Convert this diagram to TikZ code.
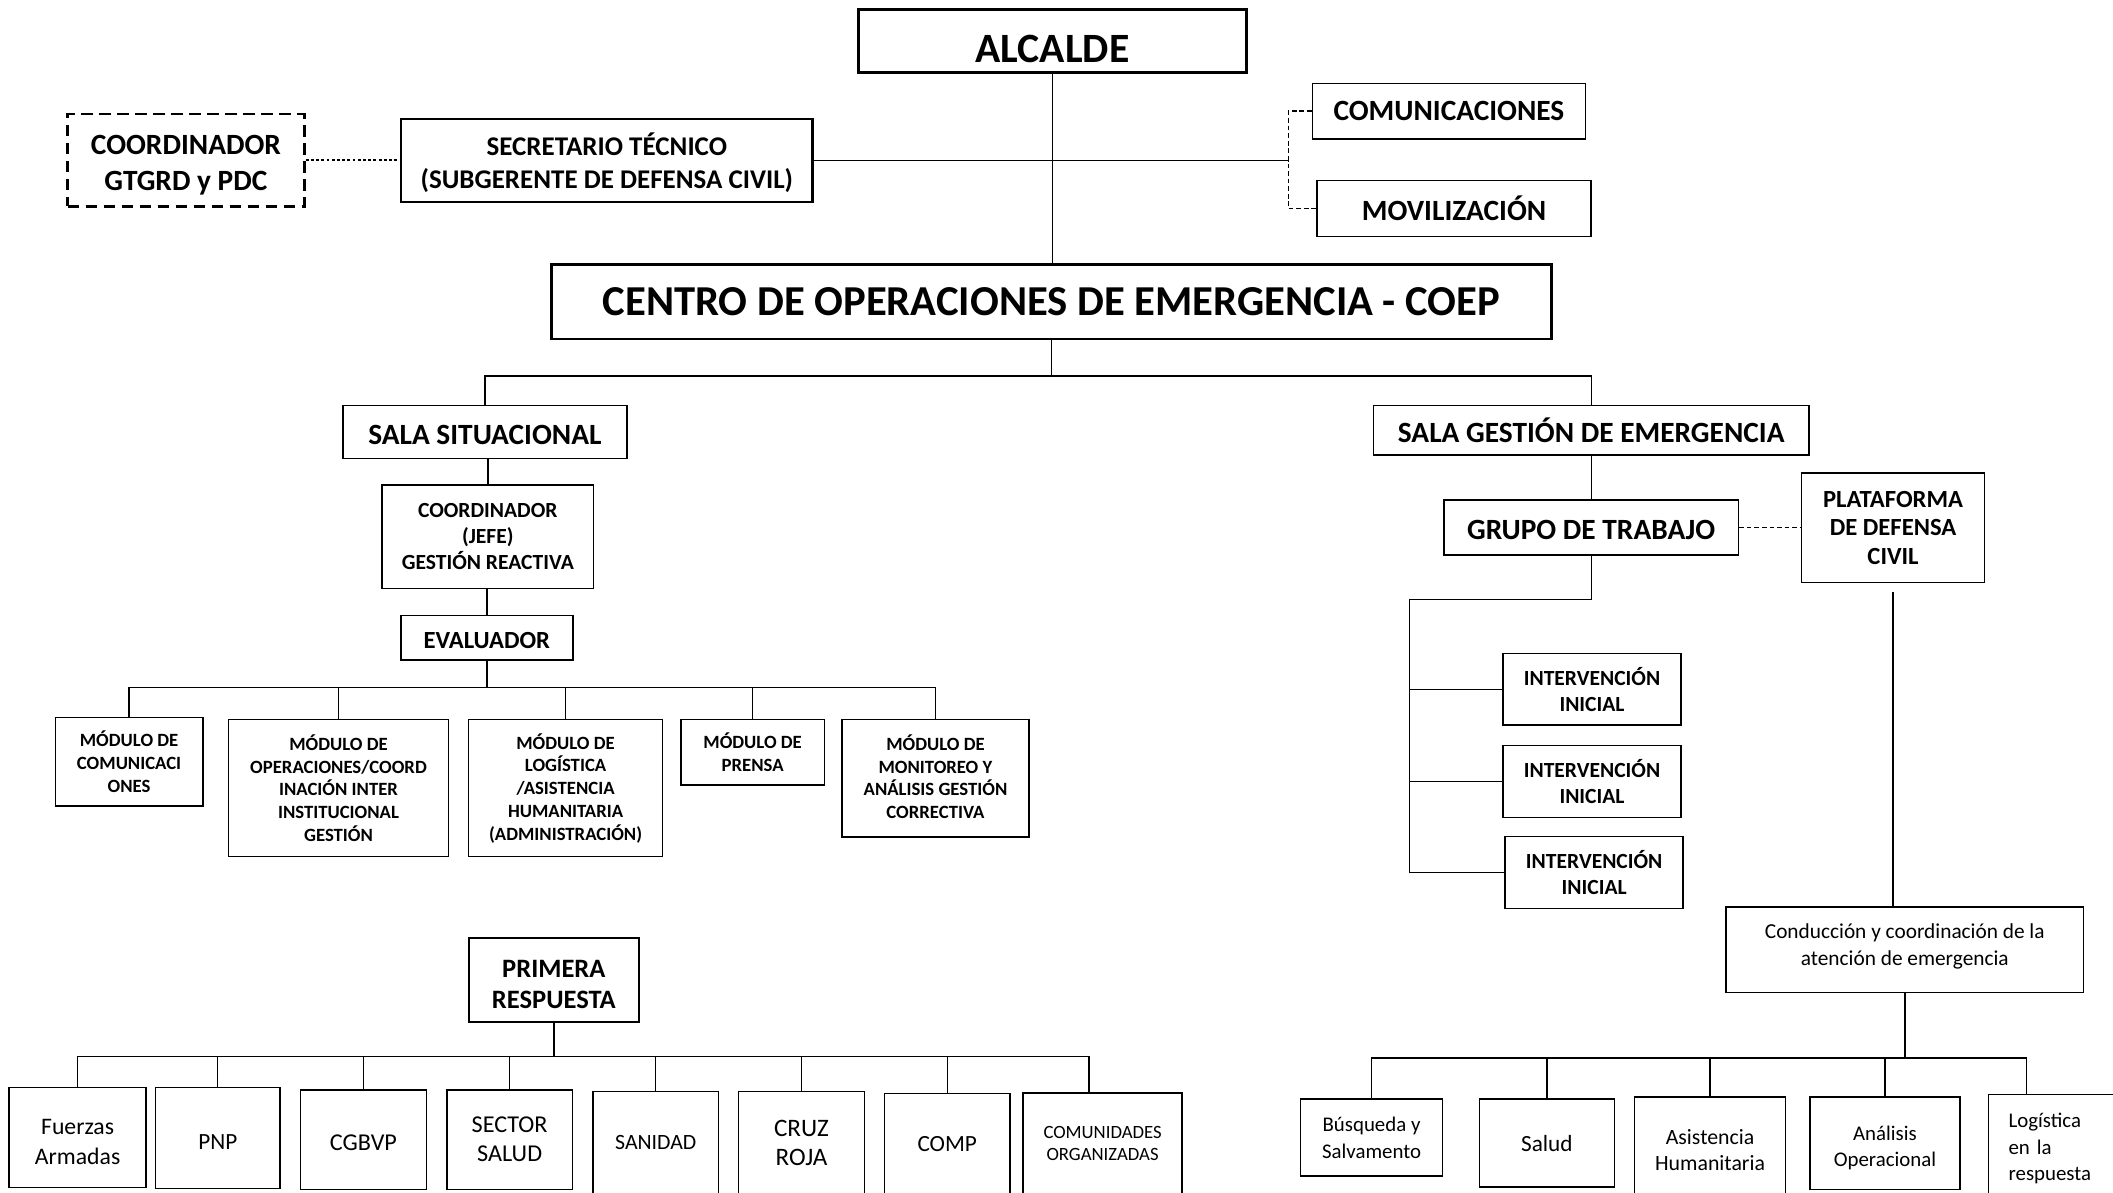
\documentclass[tikz,border=0pt]{standalone}
\usepackage{fontspec}
\setmainfont{Carlito}
\newcommand{\topgap}[1]{\rule{0pt}{#1}}
\tikzset{%
  orgbox/.style   = {shape=rectangle, draw, align=center, inner sep=0pt, line width=0.3pt},%
  headbox/.style  = {orgbox, line width=0.6pt, font=\bfseries\fontsize{8.8}{10.5}\selectfont},%
  dashbox/.style  = {orgbox, line width=0.6pt, dash pattern=on 2.4pt off 1.4pt,%
                     font=\bfseries\fontsize{6.2}{7.4}\selectfont},%
  secbox/.style   = {orgbox, line width=0.55pt, font=\bfseries\fontsize{5.7}{7.1}\selectfont},%
  midbox/.style   = {orgbox, font=\bfseries\fontsize{6.2}{7.4}\selectfont},%
  labbox/.style   = {orgbox, font=\bfseries\fontsize{5.2}{6.0}\selectfont},%
  smallbox/.style = {orgbox, font=\bfseries\fontsize{4.55}{5.5}\selectfont},%
  modbox/.style   = {orgbox, font=\bfseries\fontsize{3.95}{4.8}\selectfont},%
  unitbox/.style  = {orgbox, font=\fontsize{4.4}{5.6}\selectfont},%
  bigunit/.style  = {orgbox, font=\fontsize{5.1}{6.1}\selectfont},%
  lowtext/.style  = {text height=#1, text depth=0pt},%
  linkdot/.style  = {line width=0.3pt, dash pattern=on 0.6pt off 0.5pt},%
  linkdash/.style = {line width=0.3pt, dash pattern=on 1pt off 0.6pt}%
}
\begin{document}
\begin{tikzpicture}[x=0.01cm, y=-0.01cm, line width=0.3pt]%
	\useasboundingbox (0,0) rectangle (1568,884.6);
	\clip (0,0) rectangle (1568,884.6);
	% cabecera
	\node[headbox, lowtext=9.1pt, minimum width=2.88cm, minimum height=0.47cm] (alcalde) at (781,30.5) {ALCALDE};%
	\node[headbox, font=\bfseries\fontsize{9}{10.5}\selectfont, minimum width=7.42cm, minimum height=0.55cm] (coep) at (780.2,224) {CENTRO DE OPERACIONES DE EMERGENCIA - COEP};%
	\node[dashbox, minimum width=1.755cm, minimum height=0.683cm] (coord) at (138,118.8) {\topgap{6.2pt}COORDINADOR\\GTGRD y PDC};%
	\node[secbox, minimum width=3.055cm, minimum height=0.616cm] (secre) at (450.3,119.1) {\topgap{5.7pt}SECRETARIO TÉCNICO\\(SUBGERENTE DE DEFENSA CIVIL)};%
	\node[midbox, minimum width=2.024cm, minimum height=0.414cm] (comun) at (1075.2,82.5) {COMUNICACIONES};%
	\node[midbox, minimum width=2.03cm, minimum height=0.416cm] (movil) at (1079,154.8) {MOVILIZACIÓN};%
	\coordinate (secj) at (956,119.1);
	\draw (alcalde.south) -- (alcalde.south |- coep.north);
	\draw (secre.east) -- (secj);
	\draw[linkdash] (comun.west) -| (secj) |- (movil.west);
	\draw[linkdot] (coord.east) -- (coord.east -| secre.west);
	% salas
	\node[midbox, lowtext=5.05pt, minimum width=2.107cm, minimum height=0.391cm] (salasit) at (359.8,320.6) {SALA SITUACIONAL};%
	\node[midbox, minimum width=3.232cm, minimum height=0.366cm] (salages) at (1180.8,319.3) {SALA GESTIÓN DE EMERGENCIA};%
	\coordinate (coepbus) at (780,279);
	\draw (coep.south) -- (coep.south |- coepbus);
	\draw (salasit.north) -- (salasit.north |- coepbus) -- (salages.north |- coepbus) -- (salages.north);
	% sala situacional
	\node[smallbox, minimum width=1.57cm, minimum height=0.767cm] (jefe) at (362,398.2) {COORDINADOR\\(JEFE)\\GESTIÓN REACTIVA};%
	\node[labbox, lowtext=4.4pt, minimum width=1.275cm, minimum height=0.332cm] (evalu) at (361.3,473.2) {EVALUADOR};%
	\node[modbox, minimum width=1.094cm, minimum height=0.655cm] (modcom) at (95.8,565.4) {MÓDULO DE\\COMUNICACI\\ONES};%
	\node[modbox, minimum width=1.631cm, minimum height=1.019cm] (modope) at (251.2,584.8) {MÓDULO DE\\OPERACIONES/COORD\\INACIÓN INTER\\INSTITUCIONAL\\GESTIÓN};%
	\node[modbox, minimum width=1.44cm, minimum height=1.019cm] (modlog) at (419.7,584.8) {MÓDULO DE\\LOGÍSTICA\\/ASISTENCIA\\HUMANITARIA\\(ADMINISTRACIÓN)};%
	\node[modbox, minimum width=1.063cm, minimum height=0.487cm] (modpre) at (558.5,558.2) {MÓDULO DE\\PRENSA};%
	\node[modbox, minimum width=1.389cm, minimum height=0.871cm] (modmon) at (694.2,577.4) {MÓDULO DE\\MONITOREO Y\\ANÁLISIS GESTIÓN\\CORRECTIVA\\[-4.2pt]};%
	\coordinate (modbus) at (361,510.3);
	\draw (jefe.north |- salasit.south) -- (jefe.north);
	\draw (evalu.north |- jefe.south) -- (evalu.north);
	\draw (evalu.south) -- (evalu.south |- modbus);
	\draw (modcom.north) -- (modcom.north |- modbus) -- (modmon.north |- modbus) -- (modmon.north);
	\draw (modope.north) -- (modope.north |- modbus);
	\draw (modlog.north) -- (modlog.north |- modbus);
	\draw (modpre.north) -- (modpre.north |- modbus);
	% primera respuesta
	\node[labbox, line width=0.45pt, font=\bfseries\fontsize{5.6}{6.5}\selectfont, minimum width=1.26cm, minimum height=0.623cm] (primera) at (411,727.5) {\topgap{5.3pt}PRIMERA\\RESPUESTA};%
	\node[unitbox, font=\fontsize{5}{6.3}\selectfont, minimum width=1.016cm, minimum height=0.742cm] (fuer) at (57.6,844.2) {\topgap{4.9pt}Fuerzas\\Armadas};%
	\node[unitbox, font=\fontsize{4.9}{6}\selectfont, lowtext=4.8pt, minimum width=0.925cm, minimum height=0.747cm] (pnp) at (161.6,844.5) {PNP};%
	\node[unitbox, font=\fontsize{5.1}{6}\selectfont, lowtext=4.4pt, minimum width=0.932cm, minimum height=0.738cm] (cgbvp) at (269.7,845.7) {CGBVP};%
	\node[bigunit, minimum width=0.931cm, minimum height=0.738cm] (sector) at (378.2,845.7) {SECTOR\\SALUD};%
	\node[unitbox, font=\fontsize{4.6}{6}\selectfont, minimum width=0.931cm, minimum height=0.759cm] (sanid) at (486.6,848) {SANIDAD};%
	\node[bigunit, font=\fontsize{5.3}{6.2}\selectfont, minimum width=0.937cm, minimum height=0.759cm] (cruz) at (594.8,848) {CRUZ\\ROJA};%
	\node[bigunit, font=\fontsize{4.9}{6}\selectfont, minimum width=0.932cm, minimum height=0.747cm] (comp) at (702.9,848.7) {COMP};%
	\node[orgbox, font=\fontsize{3.95}{4.8}\selectfont, minimum width=1.181cm, minimum height=0.75cm] (comuni) at (818.2,848.5) {COMUNIDADES\\ORGANIZADAS};%
	\coordinate (prbus) at (409,784);
	\coordinate (comunitop) at ([xshift=-0.1cm]comuni.north);
	\draw (primera.south) -- (primera.south |- prbus);
	\draw (fuer.north) -- (fuer.north |- prbus) -- (comunitop |- prbus) -- (comunitop);
	\draw (pnp.north) -- (pnp.north |- prbus);
	\draw (cgbvp.north) -- (cgbvp.north |- prbus);
	\draw (sector.north) -- (sector.north |- prbus);
	\draw (sanid.north) -- (sanid.north |- prbus);
	\draw (cruz.north) -- (cruz.north |- prbus);
	\draw (comp.north) -- (comp.north |- prbus);
	% sala gestion
	\node[midbox, lowtext=5.05pt, minimum width=2.184cm, minimum height=0.408cm] (grupo) at (1180.8,391.4) {GRUPO DE TRABAJO};%
	\node[labbox, minimum width=1.356cm, minimum height=0.814cm] (plata) at (1404.8,391.7) {PLATAFORMA\\DE DEFENSA\\CIVIL};%
	\node[smallbox, minimum width=1.318cm, minimum height=0.53cm] (inter1) at (1181.4,511.5) {INTERVENCIÓN\\INICIAL};%
	\node[smallbox, minimum width=1.318cm, minimum height=0.535cm] (inter2) at (1181.4,579.8) {INTERVENCIÓN\\INICIAL};%
	\node[smallbox, minimum width=1.32cm, minimum height=0.535cm] (inter3) at (1183,647.3) {INTERVENCIÓN\\INICIAL};%
	\coordinate (grupoleft) at (1046,444.7);
	\draw (salages.south) -- (grupo.north);
	\draw[linkdash] (grupo.east) -- (plata.west |- grupo.east);
	\draw (grupo.south) |- (grupoleft) |- (inter3.west);
	\draw (grupoleft |- inter1.west) -- (inter1.west);
	\draw (grupoleft |- inter2.west) -- (inter2.west);
	% plataforma
	\node[unitbox, font=\fontsize{4.5}{5.6}\selectfont, minimum width=2.65cm, minimum height=0.636cm] (condu) at (1413.5,704.8) {Conducción y coordinación de la\\atención de emergencia\\[-3.4pt]};%
	\node[unitbox, minimum width=1.055cm, minimum height=0.571cm] (busq) at (1017.8,844.2) {Búsqueda y\\Salvamento};%
	\node[bigunit, font=\fontsize{4.9}{6}\selectfont, minimum width=1.003cm, minimum height=0.653cm] (salud) at (1147.9,848.3) {Salud};%
	\node[unitbox, font=\fontsize{4.6}{5.6}\selectfont, minimum width=1.12cm, minimum height=0.72cm] (asist) at (1269,850) {\topgap{5.2pt}Asistencia\\Humanitaria};%
	\node[unitbox, minimum width=1.115cm, minimum height=0.685cm] (anali) at (1398.8,848.3) {\topgap{5pt}Análisis\\Operacional};%
	\node[unitbox, anchor=west, align=left, text width=1.05cm, inner xsep=0.15cm, minimum height=0.75cm] (logis) at (1475,849.5) {\topgap{4.7pt}Logística\\en la\\respuesta};%
	\coordinate (cobus) at (1413,785);
	\coordinate (logistop) at ([xshift=0.29cm]logis.north west);
	\draw ([yshift=-0.06cm]plata.south) -- (plata.south |- condu.north);
	\draw (condu.south) -- (condu.south |- cobus);
	\draw (busq.north) -- (busq.north |- cobus) -- (logistop |- cobus) -- (logistop);
	\draw (salud.north) -- (salud.north |- cobus);
	\draw (asist.north) -- (asist.north |- cobus);
	\draw (anali.north) -- (anali.north |- cobus);
\end{tikzpicture}
\end{document}
